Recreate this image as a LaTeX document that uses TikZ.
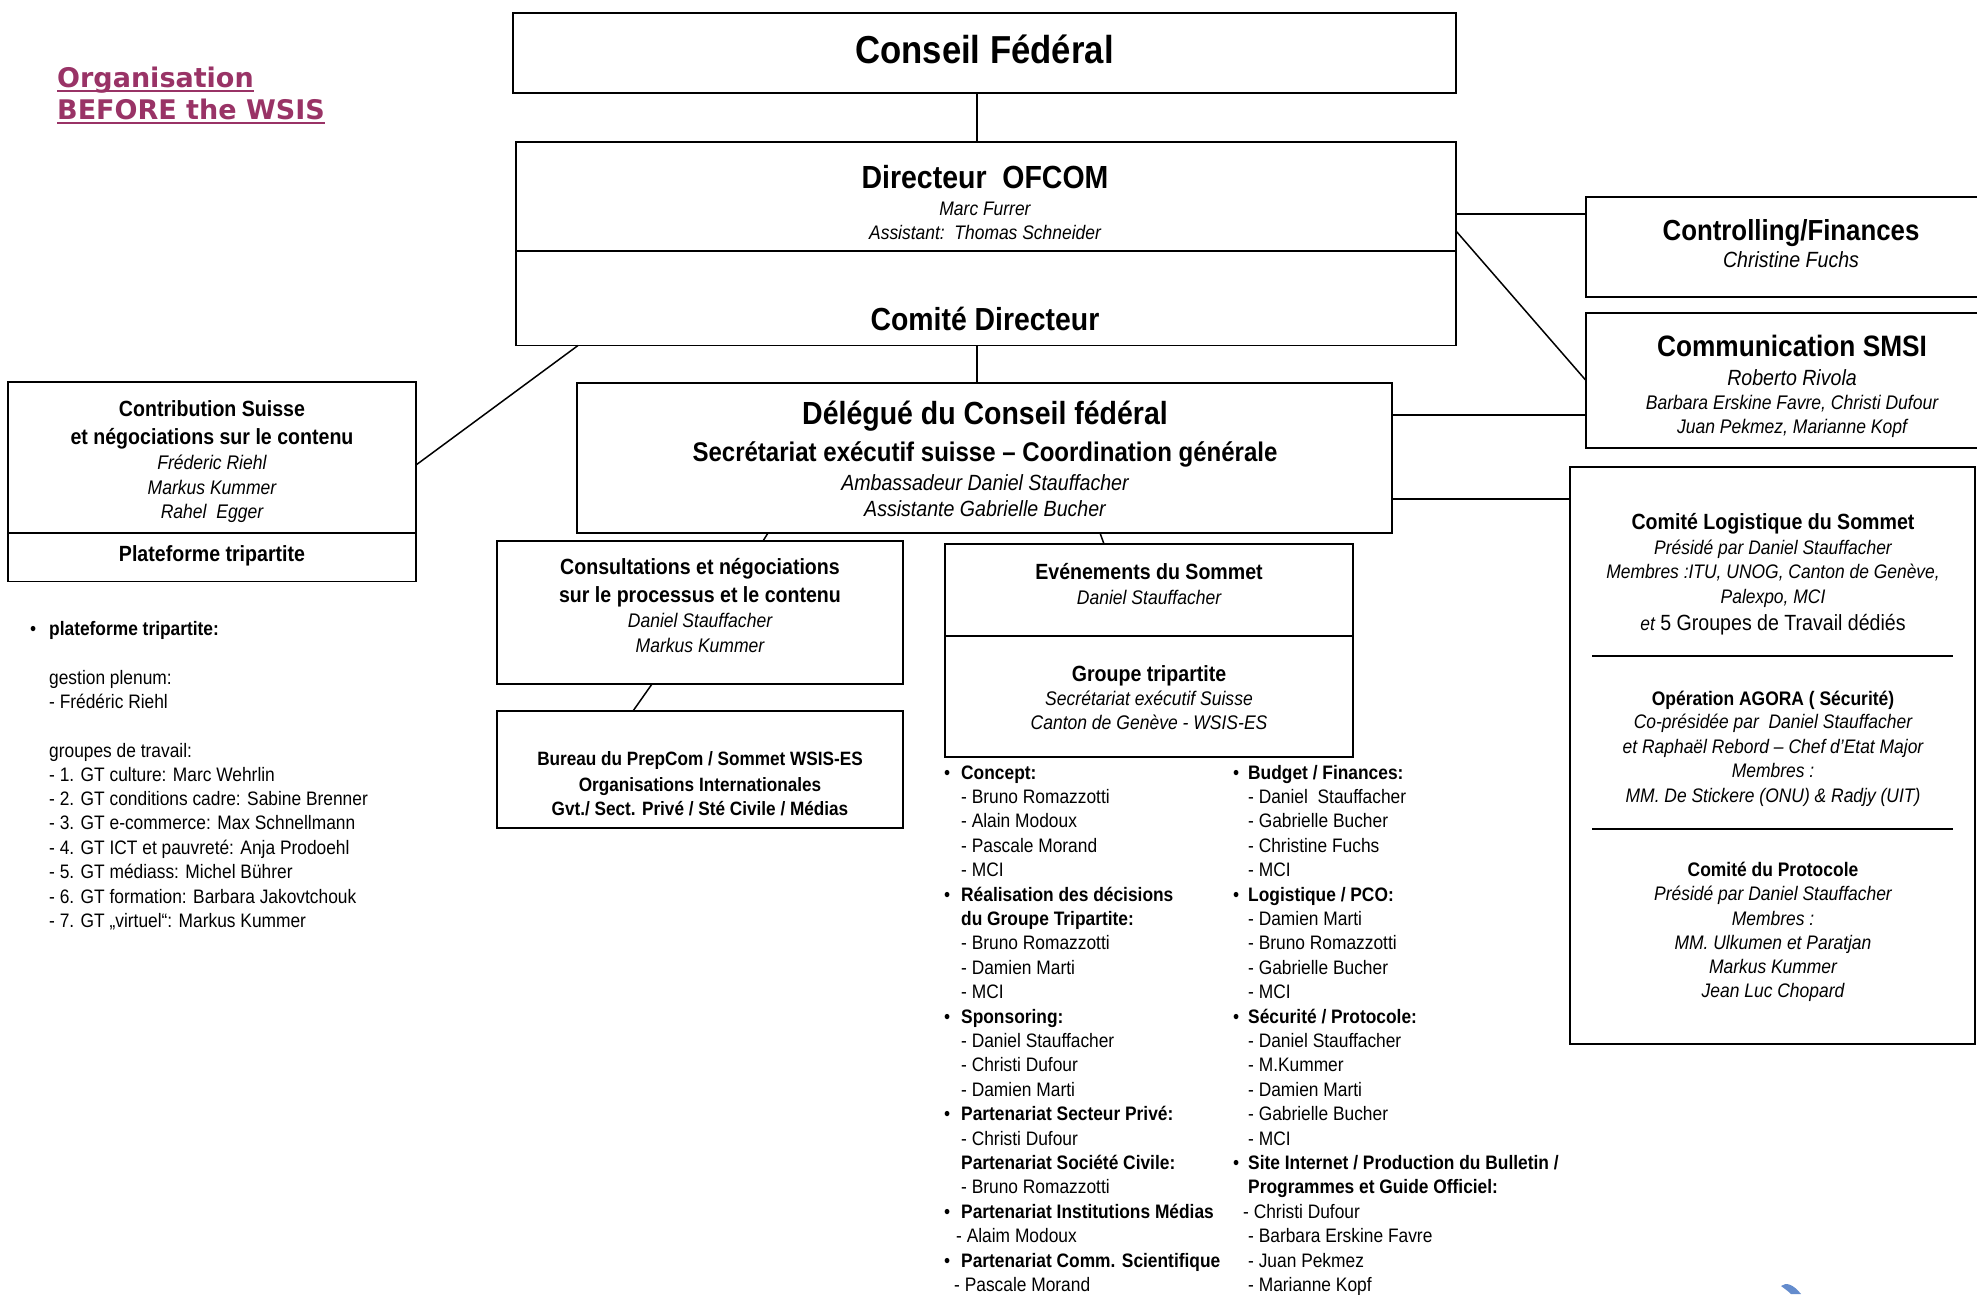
\documentclass[tikz,border=0pt]{standalone}
\usepackage{fontspec}
\usepackage{graphicx}
\setmainfont{Liberation Sans}
\newfontfamily\verd{DejaVu Sans}
\definecolor{titlec}{RGB}{153,51,102}
\definecolor{logoblue}{RGB}{100,140,205}
\newcommand{\nar}[1]{\scalebox{0.89}[1]{#1}}
\newcommand{\tcen}[5]{\node[anchor=base,inner sep=0pt] (#1) at (#2,#3) {\fontsize{#4}{#4}\selectfont\nar{#5}};}
\newcommand{\tlef}[5]{\node[anchor=base west,inner sep=0pt] (#1) at (#2,#3) {\fontsize{#4}{#4}\selectfont\nar{#5}};}
\tikzset{
  box/.style={draw,line width=1.9pt,inner sep=0pt,outer sep=0pt},
  conn/.style={line width=1.5pt},
  sepline/.style={line width=1.3pt},
  ttl/.style={anchor=base west,inner sep=0pt,text=titlec,font={\verd\bfseries\fontsize{27}{27}\selectfont}}
}
\begin{document}
\begin{tikzpicture}[x=1pt,y=-1pt]
\useasboundingbox (0,0) rectangle (1977,1294);
\clip (0,0) rectangle (1977,1294);
\fill[white] (0,0) rectangle (1977,1294);

% ---------- title
\node[ttl] (ttl1) at (57,87) {Organisation};
\node[ttl] (ttl2) at (57,119) {BEFORE the WSIS};
\draw[titlec,line width=2.6pt] ([yshift=-4pt]ttl1.base west) -- ([yshift=-4pt]ttl1.base east);
\draw[titlec,line width=2.6pt] ([yshift=-4pt]ttl2.base west) -- ([yshift=-4pt]ttl2.base east);

% ---------- boxes
\node[box,minimum width=943pt,minimum height=80pt] (cf) at (984.5,53) {};
\node[box,minimum width=940pt,minimum height=109pt] (dirtop) at (986,196.5) {};
\node[box,minimum width=940pt,minimum height=94.5pt] (dircom) at (986,298.25) {};
\node[box,minimum width=815pt,minimum height=150pt] (del) at (984.5,458) {};
\node[box,minimum width=424pt,minimum height=100pt] (ctl) at (1798,247) {};
\node[box,minimum width=424pt,minimum height=135pt] (com) at (1798,380.5) {};
\node[box,minimum width=405pt,minimum height=577pt] (logi) at (1772.5,755.5) {};
\node[box,minimum width=408pt,minimum height=151pt] (ctop) at (212,457.5) {};
\node[box,minimum width=408pt,minimum height=48.5pt] (cbot) at (212,557.25) {};
\node[box,minimum width=406pt,minimum height=143pt] (cons) at (700,612.5) {};
\node[box,minimum width=406pt,minimum height=117pt] (bur) at (700,769.5) {};
\node[box,minimum width=408pt,minimum height=92pt] (evt) at (1149,590) {};
\node[box,minimum width=408pt,minimum height=121pt] (grp) at (1149,696.5) {};

% ---------- connectors
\draw[conn] ([xshift=-7.5pt]cf.south) -- ([xshift=-9pt]dirtop.north);
\draw[conn] ([xshift=-9pt]dircom.south) -- ([xshift=-7.5pt]del.north);
\draw[conn] ([yshift=-17.5pt]dirtop.east) -- ([yshift=33pt]ctl.west);
\draw[conn] ([yshift=-34.5pt]dirtop.east) -- (com.west);
\draw[conn] ([yshift=43pt]del.east) -- ([yshift=-34.5pt]com.west);
\draw[conn] ([yshift=-41pt]del.east) -- ([yshift=256.5pt]logi.west);
\draw[conn] ([yshift=-7.5pt]ctop.east) -- ([xshift=62pt]dircom.south west);
\draw[conn] ([xshift=-216.5pt]del.south) -- ([xshift=63pt]cons.north);
\draw[conn] ([xshift=-48pt]cons.south) -- ([xshift=-67pt]bur.north);
\draw[conn] ([xshift=115.5pt]del.south) -- ([xshift=-45pt]evt.north);

% ---------- top column texts
\tcen{tcf}{984.5}{63}{39}{\bfseries Conseil Fédéral}
\tcen{tdir}{985}{188}{32}{\bfseries Directeur\ \ OFCOM}
\tcen{tmf}{985}{215}{19.6}{\itshape Marc Furrer}
\tcen{tas}{985}{239}{19.6}{\itshape Assistant:\ \ Thomas Schneider}
\tcen{tcd}{985}{330}{31.9}{\bfseries Comité Directeur}
\tcen{td1}{985}{424}{32}{\bfseries Délégué du Conseil fédéral}
\tcen{td2}{985}{461}{27}{\bfseries Secrétariat exécutif suisse – Coordination générale}
\tcen{td3}{985}{490}{22}{\itshape Ambassadeur Daniel Stauffacher}
\tcen{td4}{985}{516}{22}{\itshape Assistante Gabrielle Bucher}

% ---------- right column
\tcen{tct1}{1791}{240}{29}{\bfseries Controlling/Finances}
\tcen{tct2}{1791}{267}{22}{\itshape Christine Fuchs}
\tcen{tcm1}{1792}{356}{29.5}{\bfseries Communication SMSI}
\tcen{tcm2}{1792}{385}{22}{\itshape Roberto Rivola}
\tcen{tcm3}{1792}{409}{19.7}{\itshape Barbara Erskine Favre, Christi Dufour}
\tcen{tcm4}{1792}{433}{19.7}{\itshape Juan Pekmez, Marianne Kopf}

\tcen{tl1}{1773}{529}{22}{\bfseries Comité Logistique du Sommet}
\tcen{tl2}{1773}{554}{19.6}{\itshape Présidé par Daniel Stauffacher}
\tcen{tl3}{1773}{578}{19.6}{\itshape Membres :ITU, UNOG, Canton de Genève,}
\tcen{tl4}{1773}{603}{19.6}{\itshape Palexpo, MCI}
\tcen{tl5}{1773}{630}{22}{{\itshape\fontsize{19.6}{19.6}\selectfont et} 5 Groupes de Travail dédiés}
\draw[sepline] (1592,656) -- (1953,656);
\tcen{tl6}{1773}{705}{19.6}{\bfseries Opération AGORA ( Sécurité)}
\tcen{tl7}{1773}{728}{19.6}{\itshape Co-présidée par\ \ Daniel Stauffacher}
\tcen{tl8}{1773}{753}{19.6}{\itshape et Raphaël Rebord – Chef d’Etat Major}
\tcen{tl9}{1773}{777}{19.6}{\itshape Membres :}
\tcen{tl10}{1773}{802}{19.6}{\itshape MM. De Stickere (ONU) \& Radjy (UIT)}
\draw[sepline] (1592,829) -- (1953,829);
\tcen{tl11}{1773}{876}{19.6}{\bfseries Comité du Protocole}
\tcen{tl12}{1773}{900}{19.6}{\itshape Présidé par Daniel Stauffacher}
\tcen{tl13}{1773}{925}{19.6}{\itshape Membres :}
\tcen{tl14}{1773}{949}{19.6}{\itshape MM. Ulkumen et Paratjan}
\tcen{tl15}{1773}{973}{19.6}{\itshape Markus Kummer}
\tcen{tl16}{1773}{997}{19.6}{\itshape Jean Luc Chopard}

% ---------- left box
\tcen{tc1}{212}{416}{22}{\bfseries Contribution Suisse}
\tcen{tc2}{212}{444}{22}{\bfseries et négociations sur le contenu}
\tcen{tc3}{212}{469}{19.7}{\itshape Fréderic Riehl}
\tcen{tc4}{212}{494}{19.7}{\itshape Markus Kummer}
\tcen{tc5}{212}{518}{19.7}{\itshape Rahel\ \ Egger}
\tcen{tc6}{212}{561}{22}{\bfseries Plateforme tripartite}

% ---------- left list
\tlef{lb0}{30}{635}{19.5}{•}
\tlef{l0}{49}{635}{19.5}{\bfseries plateforme tripartite:}
\tlef{l1}{49}{684}{19.5}{gestion plenum:}
\tlef{l2}{49}{708}{19.5}{- Frédéric Riehl}
\tlef{l3}{49}{757}{19.5}{groupes de travail:}
\tlef{l4}{49}{781}{19.5}{- 1. GT culture: Marc Wehrlin}
\tlef{l5}{49}{805.4}{19.5}{- 2. GT conditions cadre: Sabine Brenner}
\tlef{l6}{49}{829.8}{19.5}{- 3. GT e-commerce: Max Schnellmann}
\tlef{l7}{49}{854.2}{19.5}{- 4. GT ICT et pauvreté: Anja Prodoehl}
\tlef{l8}{49}{878.6}{19.5}{- 5. GT médiass: Michel Bührer}
\tlef{l9}{49}{903}{19.5}{- 6. GT formation: Barbara Jakovtchouk}
\tlef{l10}{49}{927.4}{19.5}{- 7. GT „virtuel“: Markus Kummer}

% ---------- middle boxes
\tcen{tn1}{700}{574}{22}{\bfseries Consultations et négociations}
\tcen{tn2}{700}{602}{22}{\bfseries sur le processus et le contenu}
\tcen{tn3}{700}{627}{19.7}{\itshape Daniel Stauffacher}
\tcen{tn4}{700}{652}{19.7}{\itshape Markus Kummer}
\tcen{tb1}{700}{765}{19.3}{\bfseries Bureau du PrepCom / Sommet WSIS-ES}
\tcen{tb2}{700}{791}{19.3}{\bfseries Organisations Internationales}
\tcen{tb3}{700}{815}{19.3}{\bfseries Gvt./ Sect. Privé / Sté Civile / Médias}
\tcen{te1}{1149}{579}{22}{\bfseries Evénements du Sommet}
\tcen{te2}{1149}{604}{19.7}{\itshape Daniel Stauffacher}
\tcen{te3}{1149}{681}{22}{\bfseries Groupe tripartite}
\tcen{te4}{1149}{705}{19.7}{\itshape Secrétariat exécutif Suisse}
\tcen{te5}{1149}{729}{19.7}{\itshape Canton de Genève - WSIS-ES}

% ---------- list column 1
\tlef{ab0}{944}{779+24.4*0}{19.5}{•}
\tlef{a0}{961}{779+24.4*0}{19.5}{\bfseries Concept:}
\tlef{a1}{961}{779+24.4*1}{19.5}{- Bruno Romazzotti}
\tlef{a2}{961}{779+24.4*2}{19.5}{- Alain Modoux}
\tlef{a3}{961}{779+24.4*3}{19.5}{- Pascale Morand}
\tlef{a4}{961}{779+24.4*4}{19.5}{- MCI}
\tlef{ab5}{944}{779+24.4*5}{19.5}{•}
\tlef{a5}{961}{779+24.4*5}{19.5}{\bfseries Réalisation des décisions}
\tlef{a6}{961}{779+24.4*6}{19.5}{\bfseries du Groupe Tripartite:}
\tlef{a7}{961}{779+24.4*7}{19.5}{- Bruno Romazzotti}
\tlef{a8}{961}{779+24.4*8}{19.5}{- Damien Marti}
\tlef{a9}{961}{779+24.4*9}{19.5}{- MCI}
\tlef{ab10}{944}{779+24.4*10}{19.5}{•}
\tlef{a10}{961}{779+24.4*10}{19.5}{\bfseries Sponsoring:}
\tlef{a11}{961}{779+24.4*11}{19.5}{- Daniel Stauffacher}
\tlef{a12}{961}{779+24.4*12}{19.5}{- Christi Dufour}
\tlef{a13}{961}{779+24.4*13}{19.5}{- Damien Marti}
\tlef{ab14}{944}{779+24.4*14}{19.5}{•}
\tlef{a14}{961}{779+24.4*14}{19.5}{\bfseries Partenariat Secteur Privé:}
\tlef{a15}{961}{779+24.4*15}{19.5}{- Christi Dufour}
\tlef{a16}{961}{779+24.4*16}{19.5}{\bfseries Partenariat Société Civile:}
\tlef{a17}{961}{779+24.4*17}{19.5}{- Bruno Romazzotti}
\tlef{ab18}{944}{779+24.4*18}{19.5}{•}
\tlef{a18}{961}{779+24.4*18}{19.5}{\bfseries Partenariat Institutions Médias}
\tlef{a19}{956}{779+24.4*19}{19.5}{- Alaim Modoux}
\tlef{ab20}{944}{779+24.4*20}{19.5}{•}
\tlef{a20}{961}{779+24.4*20}{19.5}{\bfseries Partenariat Comm. Scientifique}
\tlef{a21}{954}{779+24.4*21}{19.5}{- Pascale Morand}

% ---------- list column 2
\tlef{bb0}{1233}{779+24.4*0}{19.5}{•}
\tlef{b0}{1248}{779+24.4*0}{19.5}{\bfseries Budget / Finances:}
\tlef{b1}{1248}{779+24.4*1}{19.5}{- Daniel\ \ Stauffacher}
\tlef{b2}{1248}{779+24.4*2}{19.5}{- Gabrielle Bucher}
\tlef{b3}{1248}{779+24.4*3}{19.5}{- Christine Fuchs}
\tlef{b4}{1248}{779+24.4*4}{19.5}{- MCI}
\tlef{bb5}{1233}{779+24.4*5}{19.5}{•}
\tlef{b5}{1248}{779+24.4*5}{19.5}{\bfseries Logistique / PCO:}
\tlef{b6}{1248}{779+24.4*6}{19.5}{- Damien Marti}
\tlef{b7}{1248}{779+24.4*7}{19.5}{- Bruno Romazzotti}
\tlef{b8}{1248}{779+24.4*8}{19.5}{- Gabrielle Bucher}
\tlef{b9}{1248}{779+24.4*9}{19.5}{- MCI}
\tlef{bb10}{1233}{779+24.4*10}{19.5}{•}
\tlef{b10}{1248}{779+24.4*10}{19.5}{\bfseries Sécurité / Protocole:}
\tlef{b11}{1248}{779+24.4*11}{19.5}{- Daniel Stauffacher}
\tlef{b12}{1248}{779+24.4*12}{19.5}{- M.Kummer}
\tlef{b13}{1248}{779+24.4*13}{19.5}{- Damien Marti}
\tlef{b14}{1248}{779+24.4*14}{19.5}{- Gabrielle Bucher}
\tlef{b15}{1248}{779+24.4*15}{19.5}{- MCI}
\tlef{bb16}{1233}{779+24.4*16}{19.5}{•}
\tlef{b16}{1248}{779+24.4*16}{19.5}{\bfseries Site Internet / Production du Bulletin /}
\tlef{b17}{1248}{779+24.4*17}{19.5}{\bfseries Programmes et Guide Officiel:}
\tlef{b18}{1243}{779+24.4*18}{19.5}{- Christi Dufour}
\tlef{b19}{1248}{779+24.4*19}{19.5}{- Barbara Erskine Favre}
\tlef{b20}{1248}{779+24.4*20}{19.5}{- Juan Pekmez}
\tlef{b21}{1248}{779+24.4*21}{19.5}{- Marianne Kopf}

% ---------- partial logo at the bottom edge
\fill[logoblue] (1781,1286) .. controls (1786,1282) and (1793,1284) .. (1801,1294) -- (1791,1294) .. controls (1788,1291) and (1785,1289) .. (1781,1286) -- cycle;
\end{tikzpicture}
\end{document}
